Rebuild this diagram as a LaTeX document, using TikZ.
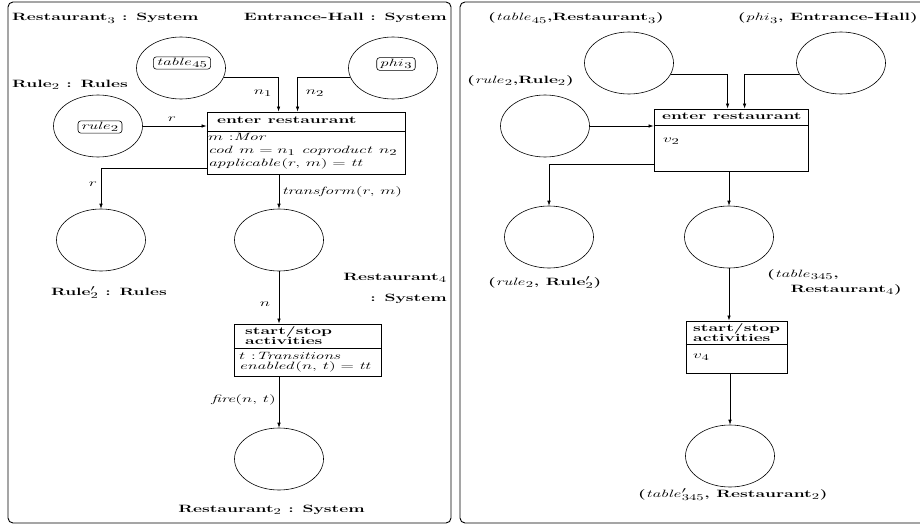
\documentclass[tikz,border=0pt]{standalone}
\usepackage{graphicx}
\usetikzlibrary{arrows.meta,calc,shapes.geometric}
% larger indices at the 12pt size used throughout
\DeclareMathSizes{12}{12}{10}{8}
% wide, slightly squat lettering used for every label
\newcommand\widetxt[1]{\scalebox{1.46}[0.88]{#1}}
\begin{document}
\begin{tikzpicture}[x=1pt,y=-1pt,
  every node/.style={font=\fontsize{12}{14}\selectfont},
  place/.style={ellipse,draw,line width=0.6pt,minimum width=89pt,minimum height=62pt,inner sep=0pt},
  token/.style={draw,rounded corners=3pt,inner xsep=3pt,inner ysep=1.5pt,line width=0.6pt},
  trans/.style={draw,line width=0.9pt,inner sep=0pt},
  arc/.style={-{Latex[length=5pt,width=3.5pt]},line width=0.6pt},
  lbl/.style={font=\fontsize{12}{14}\selectfont\bfseries,inner sep=0pt},
  txt/.style={inner sep=0pt},
  panel/.style={draw,rounded corners=5pt,line width=0.9pt}]

\useasboundingbox (0,0) rectangle (920,527);

% ---------------- left panel: typed net ----------------
\draw[panel] (8,2) rectangle (451,523);

\node[lbl,anchor=base west] (l1) at (12,21) {\widetxt{Restaurant$_3$ : System}};
\node[lbl,anchor=base east] (l2) at (447,21) {\widetxt{Entrance-Hall : System}};
\node[lbl,anchor=base west] (l3) at (12,87) {\widetxt{Rule$_2$ : Rules}};

\node[place] (t45) at (181,68) {};
\node[token] (tk1) at (182,63) {\widetxt{$\mathit{table}_{45}$}};
\node[place] (phi) at (393,68) {};
\node[token] (tk2) at (396,64) {\widetxt{$\mathit{phi}_3$}};
\node[place] (rul) at (98,126) {};
\node[token] (tk3) at (100,127) {\widetxt{$\mathit{rule}_2$}};

\node[trans,minimum width=198pt,minimum height=62pt] (ent) at (306,143) {};
\draw[line width=0.9pt] ($(ent.north west)+(0,20)$) -- ($(ent.north east)+(0,20)$);
\node[lbl,anchor=base west] (entT) at (217,123) {\widetxt{enter restaurant}};
\node[txt,anchor=base west] (eb1) at (208,140) {\widetxt{$m$ :$\mathit{Mor}$}};
\node[txt,anchor=base west] (eb2) at (208,153) {\widetxt{$\mathit{cod}\ m = n_1\ \mathit{coproduct}\ n_2$}};
\node[txt,anchor=base west] (eb3) at (208,166) {\widetxt{$\mathit{applicable}(r,\,m) = \mathit{tt}$}};

\node[place] (rulp) at (101,240) {};
\node[place] (r4) at (279,240) {};
\node[lbl,anchor=base] (l5) at (109,295) {\widetxt{Rule$'_2$ : Rules}};
\node[lbl,anchor=base east] (l4a) at (447,280) {\widetxt{Restaurant$_4$}};
\node[lbl,anchor=base east] (l4b) at (447,301) {\widetxt{: System}};

\node[trans,minimum width=147pt,minimum height=52pt] (ss) at (307.5,350) {};
\draw[line width=0.9pt] ($(ss.north west)+(0,25)$) -- ($(ss.north east)+(0,25)$);
\node[lbl,anchor=base west] (ssT1) at (245,334.5) {\widetxt{start/stop}};
\node[lbl,anchor=base west] (ssT2) at (245,344.5) {\widetxt{activities}};
\node[txt,anchor=base west] (ssb1) at (239,359) {\widetxt{$t$ :$\mathit{Transitions}$}};
\node[txt,anchor=base west] (ssb2) at (239,369.5) {\widetxt{$\mathit{enabled}(n,\,t) = \mathit{tt}$}};

\node[place] (r2) at (279,459) {};
\node[lbl,anchor=base east] (l6) at (365,512) {\widetxt{Restaurant$_2$ : System}};

\draw[arc] (t45.-12) -| ($(ent.north west)+(72,0)$);
\draw[arc] (phi.192) -| ($(ent.north west)+(91,0)$);
\draw[arc] (rul.east) -- (rul.east -| ent.west);
\draw[arc] ($(ent.south west)+(0,-6)$) -| (rulp.north);
\draw[arc] (r4.north |- ent.south) -- (r4.north);
\draw[arc] (r4.south) -- (r4.south |- ss.north);
\draw[arc] (r2.north |- ss.south) -- (r2.north);

\node[txt] (an1) at (263,93) {\widetxt{$n_1$}};
\node[txt] (an2) at (315,93) {\widetxt{$n_2$}};
\node[txt] (ar1) at (172,119) {\widetxt{$r$}};
\node[txt] (ar2) at (93,184) {\widetxt{$r$}};
\node[txt] (atr) at (342,192) {\widetxt{$\mathit{transform}(r,\,m)$}};
\node[txt] (an) at (265,304) {\widetxt{$n$}};
\node[txt,anchor=east] (afi) at (276,400) {\widetxt{\textit{fire}$(n,\,t)$}};

% ---------------- right panel: instance ----------------
\draw[panel] (460,2) rectangle (930,523);

\node[lbl,anchor=base west] (m1) at (488,21) {\widetxt{($\mathit{table}_{45}$,Restaurant$_3$)}};
\node[lbl,anchor=base east] (m2) at (918,21) {\widetxt{($\mathit{phi}_3$, Entrance-Hall)}};
\node[lbl,anchor=base west] (m3) at (467,83) {\widetxt{($\mathit{rule}_2$,Rule$_2$)}};

\node[place] (rt45) at (629,63) {};
\node[place] (rphi) at (841,63) {};
\node[place] (rrul) at (545,126) {};

\node[trans,minimum width=154pt,minimum height=62pt] (rent) at (731,140) {};
\draw[line width=0.9pt] ($(rent.north west)+(0,17)$) -- ($(rent.north east)+(0,17)$);
\node[lbl,anchor=base west] (rentT) at (662,119.5) {\widetxt{enter restaurant}};
\node[txt,anchor=base west] (rv2) at (663,142) {\widetxt{$v_2$}};

\node[place] (rrulp) at (549,237) {};
\node[place] (rt345) at (729,237) {};
\node[lbl,anchor=base west] (m4) at (488,285) {\widetxt{($\mathit{rule}_2$, Rule$'_2$)}};
\node[lbl,anchor=base west] (m5a) at (767,277) {\widetxt{($\mathit{table}_{345}$,}};
\node[lbl,anchor=base east] (m5b) at (902,292) {\widetxt{Restaurant$_4$)}};

\node[trans,minimum width=101pt,minimum height=52pt] (rss) at (736.5,347) {};
\draw[line width=0.9pt] ($(rss.north west)+(0,24)$) -- ($(rss.north east)+(0,24)$);
\node[lbl,anchor=base west] (rssT1) at (693,331.5) {\widetxt{start/stop}};
\node[lbl,anchor=base west] (rssT2) at (693,341.5) {\widetxt{activities}};
\node[txt,anchor=base west] (rv4) at (693,358) {\widetxt{$v_4$}};

\node[place] (rt345p) at (730,456) {};
\node[lbl,anchor=base west] (m6) at (638,497) {\widetxt{($\mathit{table}'_{345}$, Restaurant$_2$)}};

\draw[arc] (rt45.-15) -| ($(rent.north west)+(74,0)$);
\draw[arc] (rphi.195) -| ($(rent.north west)+(91,0)$);
\draw[arc] (rrul.east) -- (rrul.east -| rent.west);
\draw[arc] ($(rent.south west)+(0,-7)$) -| (rrulp.north);
\draw[arc] (rt345.north |- rent.south) -- (rt345.north);
\draw[arc] (rt345.south) -- (rt345.south |- rss.north);
\draw[arc] (rt345p.north |- rss.south) -- (rt345p.north);
\end{tikzpicture}
\end{document}
